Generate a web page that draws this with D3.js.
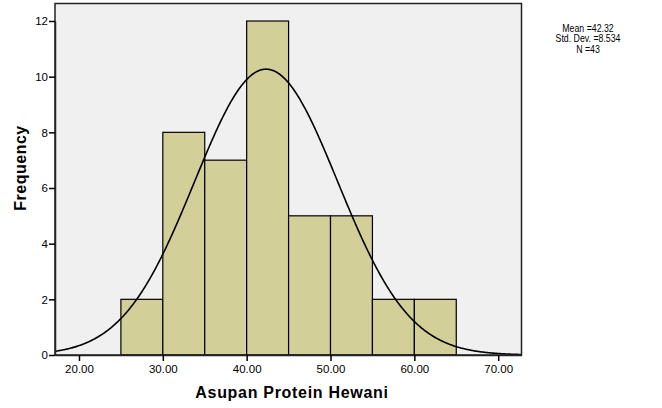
<!DOCTYPE html>
<html><head><meta charset="utf-8">
<script src="https://cdn.jsdelivr.net/npm/d3@7"></script>
<style>body{margin:0;background:#fff}svg{display:block}</style>
</head><body>
<script>
const binStarts = [25, 30, 35, 40, 45, 50, 55, 60];
const binWidth = 5;
const frequencies = [2, 8, 7, 12, 5, 5, 2, 2];
const xTicks = [20, 30, 40, 50, 60, 70];
const yTicks = [0, 2, 4, 6, 8, 10, 12];
const statLines = ["Mean =42.32", "Std. Dev. =8.534", "N =43"];
const mean = 42.32, sd = 8.534, curvePeak = 10.27;

const W = 662, H = 408;
const svg = d3.select("body").append("svg").attr("width", W).attr("height", H);
const L = 55, R = 521.5, T = 3.5, B = 355;
const x = d3.scaleLinear().domain([17.14, 72.78]).range([L, R]);
const y = d3.scaleLinear().domain([0, 12]).range([B, 21]);

svg.append("rect").attr("x", L).attr("y", T).attr("width", R - L).attr("height", B - T)
  .attr("fill", "#f0f0f0");

svg.selectAll("rect.bar").data(binStarts).enter().append("rect").attr("class", "bar")
  .attr("x", d => x(d)).attr("width", d => x(d + binWidth) - x(d))
  .attr("y", (d, i) => y(frequencies[i])).attr("height", (d, i) => y(0) - y(frequencies[i]))
  .attr("fill", "#d3cf99").attr("stroke", "#000").attr("stroke-width", 1.2);

const xs = d3.range(x.domain()[0], x.domain()[1] + 0.01, 0.1);
svg.append("path").datum(xs)
  .attr("d", d3.line().x(d => x(d)).y(d => y(curvePeak * Math.exp(-0.5 * ((d - mean) / sd) ** 2))))
  .attr("fill", "none").attr("stroke", "#000").attr("stroke-width", 1.6);

svg.append("rect").attr("x", L).attr("y", T).attr("width", R - L).attr("height", B - T)
  .attr("fill", "none").attr("stroke", "#222").attr("stroke-width", 1.5);

const font = "Arial, 'Liberation Sans', sans-serif";
const xAxis = svg.append("g").attr("transform", `translate(0,${B})`)
  .call(d3.axisBottom(x).tickValues(xTicks).tickFormat(d3.format(".2f")).tickSize(6).tickSizeOuter(0));
const yAxis = svg.append("g").attr("transform", `translate(${L},0)`)
  .call(d3.axisLeft(y).tickValues(yTicks).tickFormat(d3.format("d")).tickSize(6).tickSizeOuter(0));
[xAxis, yAxis].forEach(a => {
  a.select(".domain").attr("stroke", "#222").attr("stroke-width", 1.5);
  a.selectAll(".tick line").attr("stroke", "#000").attr("stroke-width", 1.5);
  a.selectAll("text").attr("font-family", font).attr("font-size", 11.5).attr("fill", "#000");
});
xAxis.selectAll("text").attr("dy", "0.71em").attr("y", 10);
yAxis.selectAll("text").attr("x", -7);

svg.append("text").attr("x", 292).attr("y", 398).attr("text-anchor", "middle")
  .attr("font-family", font).attr("font-weight", "bold").attr("font-size", 16)
  .attr("letter-spacing", 0.7).text("Asupan Protein Hewani");
svg.append("text").attr("transform", `translate(26,168) rotate(-90)`).attr("text-anchor", "middle")
  .attr("font-family", font).attr("font-weight", "bold").attr("font-size", 16)
  .attr("letter-spacing", 0.5).text("Frequency");

const statG = svg.append("g").attr("transform", "translate(588,0) scale(0.86,1)");
statG.selectAll("text.stat").data(statLines).enter().append("text").attr("class", "stat")
  .attr("x", 0).attr("y", (d, i) => 32 + i * 10.5).attr("text-anchor", "middle")
  .attr("font-family", font).attr("font-size", 10.2).text(d => d);
</script>
</body></html>
